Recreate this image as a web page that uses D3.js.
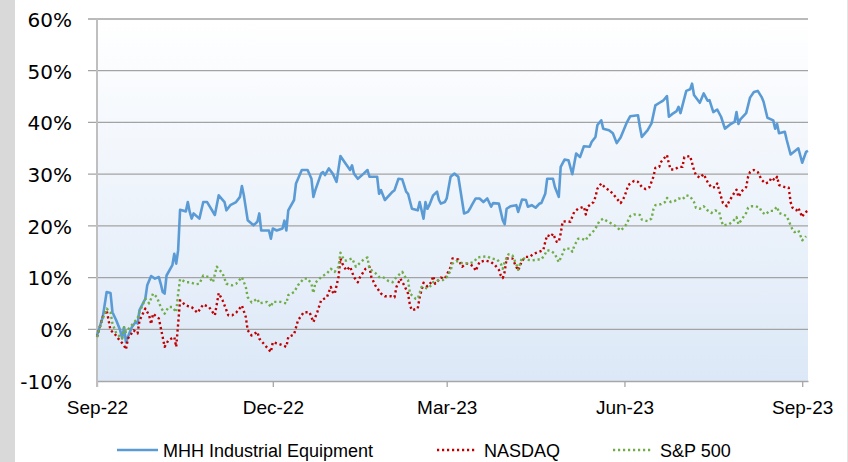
<!DOCTYPE html>
<html>
<head>
<meta charset="utf-8">
<script src="https://cdnjs.cloudflare.com/ajax/libs/d3/7.8.5/d3.min.js"></script>
<style>
  body { margin: 0; background: #ffffff; }
  svg { display: block; }
</style>
</head>
<body>
<div class="container"></div>
<script>
const seriesNames = ["MHH Industrial Equipment", "NASDAQ", "S&P 500"]
const xTickDates = ["2022-09-01", "2022-12-01", "2023-03-01", "2023-06-01", "2023-09-01"]
const yTicks = [-10, 0, 10, 20, 30, 40, 50, 60]

const mhhDates = ["2022-09-01","2022-09-04","2022-09-06","2022-09-08","2022-09-09","2022-09-11","2022-09-13","2022-09-14","2022-09-15","2022-09-16","2022-09-17","2022-09-19","2022-09-21","2022-09-22","2022-09-23","2022-09-26","2022-09-27","2022-09-29","2022-10-01","2022-10-03","2022-10-04","2022-10-05","2022-10-06","2022-10-07","2022-10-10","2022-10-11","2022-10-12","2022-10-13","2022-10-14","2022-10-17","2022-10-18","2022-10-19","2022-10-20","2022-10-21","2022-10-24","2022-10-26","2022-10-28","2022-11-01","2022-11-03","2022-11-06","2022-11-07","2022-11-09","2022-11-12","2022-11-14","2022-11-15","2022-11-16","2022-11-18","2022-11-21","2022-11-23","2022-11-24","2022-11-25","2022-11-29","2022-11-30","2022-12-01","2022-12-03","2022-12-06","2022-12-07","2022-12-08","2022-12-09","2022-12-12","2022-12-13","2022-12-16","2022-12-19","2022-12-21","2022-12-22","2022-12-23","2022-12-26","2022-12-27","2022-12-28","2022-12-30","2023-01-01","2023-01-03","2023-01-05","2023-01-07","2023-01-10","2023-01-11","2023-01-12","2023-01-14","2023-01-17","2023-01-19","2023-01-20","2023-01-24","2023-01-25","2023-01-26","2023-01-28","2023-02-01","2023-02-02","2023-02-04","2023-02-06","2023-02-08","2023-02-09","2023-02-11","2023-02-14","2023-02-15","2023-02-17","2023-02-18","2023-02-19","2023-02-20","2023-02-22","2023-02-24","2023-02-25","2023-02-26","2023-02-28","2023-03-01","2023-03-03","2023-03-05","2023-03-07","2023-03-10","2023-03-12","2023-03-13","2023-03-14","2023-03-16","2023-03-18","2023-03-20","2023-03-22","2023-03-24","2023-03-25","2023-03-28","2023-03-30","2023-03-31","2023-04-01","2023-04-03","2023-04-06","2023-04-07","2023-04-09","2023-04-11","2023-04-12","2023-04-14","2023-04-16","2023-04-18","2023-04-19","2023-04-21","2023-04-22","2023-04-25","2023-04-26","2023-04-28","2023-04-29","2023-05-01","2023-05-03","2023-05-05","2023-05-07","2023-05-09","2023-05-11","2023-05-14","2023-05-15","2023-05-17","2023-05-18","2023-05-20","2023-05-21","2023-05-24","2023-05-26","2023-05-28","2023-05-30","2023-06-02","2023-06-04","2023-06-08","2023-06-09","2023-06-10","2023-06-13","2023-06-15","2023-06-17","2023-06-20","2023-06-21","2023-06-23","2023-06-24","2023-06-26","2023-06-28","2023-06-29","2023-06-30","2023-07-03","2023-07-05","2023-07-06","2023-07-07","2023-07-10","2023-07-12","2023-07-14","2023-07-15","2023-07-17","2023-07-19","2023-07-21","2023-07-23","2023-07-26","2023-07-28","2023-07-29","2023-07-30","2023-07-31","2023-08-03","2023-08-05","2023-08-07","2023-08-09","2023-08-11","2023-08-12","2023-08-14","2023-08-17","2023-08-18","2023-08-19","2023-08-20","2023-08-23","2023-08-24","2023-08-26","2023-08-30","2023-09-01","2023-09-03","2023-09-04"]
const mhhValues = [-1.2,2.4,7.2,7.0,3.3,1.7,-0.2,-1.7,0.4,-2.5,-1.5,0.4,1.4,1.1,3.7,5.9,8.5,10.3,9.8,10.1,8.8,7.2,6.9,10.4,12.4,14.6,12.7,15.3,23.1,22.8,24.6,22.7,21.4,22.4,21.4,24.6,24.6,22.1,25.9,24.6,23.0,24.0,24.6,25.6,27.7,25.9,21.1,20.1,20.8,22.4,19.1,19.1,17.5,19.5,19.1,19.5,21.0,19.1,23.0,25.0,28.2,30.8,30.8,29.1,25.6,26.9,30.1,30.4,29.8,31.1,30.1,28.5,33.5,32.4,30.8,31.7,30.1,29.1,30.1,30.8,29.5,29.5,26.2,26.9,25.0,26.6,26.9,29.1,29.0,26.6,26.2,23.3,23.0,24.6,21.4,24.6,23.3,24.0,25.9,26.6,25.0,24.3,24.6,25.3,29.5,30.1,29.5,22.4,22.7,23.3,24.0,25.3,25.3,24.6,25.3,23.7,24.4,24.3,21.1,20.3,23.3,23.8,24.0,22.7,25.1,25.0,23.7,24.0,23.5,24.3,24.4,26.2,29.1,29.1,27.5,25.6,31.4,32.8,32.7,30.0,34.0,33.3,35.4,35.3,36.2,37.2,39.5,40.4,38.8,38.5,37.9,36.0,37.1,39.8,41.2,41.4,39.1,37.2,38.5,39.8,43.3,44.0,44.2,45.1,41.1,41.7,42.2,43.0,41.8,46.1,46.4,47.5,45.3,43.8,45.6,44.2,44.3,42.0,42.5,41.1,38.8,39.7,40.1,42.0,39.7,40.6,41.8,44.8,45.9,46.1,44.9,44.0,40.9,40.4,38.8,39.7,37.9,38.2,36.6,33.8,35.0,32.2,34.3,34.5]

const nasdaqDates = ["2022-09-01","2022-09-04","2022-09-06","2022-09-08","2022-09-10","2022-09-12","2022-09-15","2022-09-16","2022-09-17","2022-09-20","2022-09-22","2022-09-23","2022-09-26","2022-09-28","2022-09-29","2022-09-30","2022-10-03","2022-10-05","2022-10-06","2022-10-08","2022-10-11","2022-10-12","2022-10-13","2022-10-14","2022-10-17","2022-10-20","2022-10-23","2022-10-26","2022-10-29","2022-11-01","2022-11-03","2022-11-05","2022-11-08","2022-11-10","2022-11-12","2022-11-15","2022-11-17","2022-11-18","2022-11-20","2022-11-23","2022-11-24","2022-11-27","2022-11-30","2022-12-01","2022-12-04","2022-12-06","2022-12-08","2022-12-09","2022-12-12","2022-12-14","2022-12-17","2022-12-20","2022-12-22","2022-12-24","2022-12-26","2022-12-29","2022-12-31","2023-01-01","2023-01-02","2023-01-04","2023-01-05","2023-01-06","2023-01-08","2023-01-10","2023-01-12","2023-01-14","2023-01-15","2023-01-18","2023-01-20","2023-01-21","2023-01-23","2023-01-26","2023-01-28","2023-01-31","2023-02-02","2023-02-03","2023-02-05","2023-02-07","2023-02-09","2023-02-10","2023-02-11","2023-02-14","2023-02-15","2023-02-17","2023-02-19","2023-02-21","2023-02-22","2023-02-23","2023-02-26","2023-02-28","2023-03-03","2023-03-04","2023-03-07","2023-03-09","2023-03-11","2023-03-13","2023-03-15","2023-03-16","2023-03-18","2023-03-21","2023-03-24","2023-03-26","2023-03-28","2023-03-29","2023-03-30","2023-03-31","2023-04-01","2023-04-04","2023-04-06","2023-04-07","2023-04-09","2023-04-11","2023-04-13","2023-04-15","2023-04-18","2023-04-20","2023-04-21","2023-04-22","2023-04-24","2023-04-25","2023-04-27","2023-04-28","2023-04-29","2023-04-30","2023-05-02","2023-05-04","2023-05-06","2023-05-08","2023-05-11","2023-05-12","2023-05-13","2023-05-16","2023-05-17","2023-05-18","2023-05-20","2023-05-22","2023-05-24","2023-05-26","2023-05-28","2023-05-30","2023-06-01","2023-06-03","2023-06-06","2023-06-08","2023-06-10","2023-06-12","2023-06-14","2023-06-16","2023-06-17","2023-06-19","2023-06-20","2023-06-23","2023-06-24","2023-06-25","2023-06-27","2023-06-29","2023-07-01","2023-07-02","2023-07-05","2023-07-07","2023-07-08","2023-07-10","2023-07-12","2023-07-14","2023-07-16","2023-07-18","2023-07-19","2023-07-21","2023-07-22","2023-07-24","2023-07-25","2023-07-27","2023-07-29","2023-07-30","2023-08-01","2023-08-03","2023-08-04","2023-08-05","2023-08-07","2023-08-09","2023-08-11","2023-08-13","2023-08-15","2023-08-16","2023-08-18","2023-08-19","2023-08-20","2023-08-23","2023-08-25","2023-08-26","2023-08-27","2023-08-29","2023-08-30","2023-09-01","2023-09-02","2023-09-04"]
const nasdaqValues = [-1.5,2.4,3.7,-0.2,-0.8,-1.8,-3.1,-3.9,-1.8,-0.2,-0.8,1.7,4.0,2.7,1.0,3.0,2.1,-1.5,-3.4,-2.1,-1.5,-3.4,1.1,5.6,4.6,4.3,3.2,4.8,4.3,2.7,7.0,5.6,2.7,2.7,3.2,4.6,2.4,-0.2,-1.2,-0.5,-1.8,-3.1,-4.4,-2.5,-2.8,-3.1,-3.4,-1.5,-1.0,1.7,3.3,3.3,1.4,3.3,5.6,6.2,8.2,7.2,6.8,10.1,13.7,12.7,11.4,12.1,10.1,9.1,10.0,11.7,12.1,10.1,8.5,6.9,6.4,6.4,6.2,8.2,9.8,8.5,6.9,4.6,3.7,4.0,6.2,9.0,8.3,9.1,10.3,8.8,10.0,9.8,12.0,13.7,13.5,12.1,12.7,12.6,12.1,11.3,13.0,13.3,13.0,12.4,11.5,10.4,9.9,11.1,13.7,13.7,12.1,11.4,13.3,14.0,14.0,14.6,15.0,15.3,16.9,18.2,17.9,18.5,16.9,16.9,18.5,20.8,20.9,20.8,22.7,23.3,23.7,22.2,23.7,24.6,25.6,27.2,28.2,27.4,26.9,26.2,25.3,24.4,25.6,27.9,28.7,28.5,27.5,27.1,27.5,29.5,31.2,31.4,32.4,33.7,32.0,30.9,30.9,31.4,31.4,33.3,33.5,30.8,29.8,29.3,30.0,28.5,27.4,27.5,28.2,25.6,24.4,23.8,24.6,25.9,27.0,25.6,26.8,27.5,29.5,30.4,30.8,30.4,28.9,28.2,28.5,29.3,28.8,29.5,27.9,27.5,27.4,24.6,23.5,23.0,23.5,21.7,22.4,23.0]

const spDates = ["2022-09-01","2022-09-03","2022-09-06","2022-09-08","2022-09-09","2022-09-11","2022-09-14","2022-09-15","2022-09-16","2022-09-19","2022-09-21","2022-09-22","2022-09-23","2022-09-26","2022-09-28","2022-09-30","2022-10-02","2022-10-04","2022-10-06","2022-10-08","2022-10-10","2022-10-12","2022-10-13","2022-10-14","2022-10-17","2022-10-19","2022-10-22","2022-10-24","2022-10-26","2022-10-29","2022-10-31","2022-11-02","2022-11-05","2022-11-07","2022-11-10","2022-11-12","2022-11-15","2022-11-17","2022-11-18","2022-11-20","2022-11-23","2022-11-24","2022-11-28","2022-11-30","2022-12-01","2022-12-05","2022-12-08","2022-12-09","2022-12-12","2022-12-14","2022-12-17","2022-12-19","2022-12-21","2022-12-22","2022-12-23","2022-12-26","2022-12-29","2022-12-31","2023-01-02","2023-01-04","2023-01-05","2023-01-07","2023-01-08","2023-01-11","2023-01-13","2023-01-15","2023-01-17","2023-01-19","2023-01-20","2023-01-23","2023-01-25","2023-01-27","2023-01-30","2023-02-01","2023-02-03","2023-02-06","2023-02-08","2023-02-09","2023-02-10","2023-02-13","2023-02-14","2023-02-16","2023-02-19","2023-02-21","2023-02-22","2023-02-25","2023-02-27","2023-03-01","2023-03-03","2023-03-04","2023-03-06","2023-03-09","2023-03-12","2023-03-15","2023-03-17","2023-03-19","2023-03-22","2023-03-24","2023-03-27","2023-03-29","2023-03-30","2023-03-31","2023-04-02","2023-04-04","2023-04-06","2023-04-07","2023-04-09","2023-04-11","2023-04-14","2023-04-17","2023-04-19","2023-04-21","2023-04-22","2023-04-24","2023-04-26","2023-04-27","2023-04-28","2023-04-30","2023-05-01","2023-05-04","2023-05-05","2023-05-06","2023-05-08","2023-05-10","2023-05-12","2023-05-13","2023-05-15","2023-05-17","2023-05-19","2023-05-21","2023-05-23","2023-05-26","2023-05-28","2023-05-30","2023-06-01","2023-06-02","2023-06-04","2023-06-06","2023-06-09","2023-06-10","2023-06-13","2023-06-15","2023-06-16","2023-06-17","2023-06-20","2023-06-22","2023-06-23","2023-06-25","2023-06-27","2023-06-29","2023-07-01","2023-07-02","2023-07-03","2023-07-05","2023-07-07","2023-07-08","2023-07-10","2023-07-12","2023-07-14","2023-07-16","2023-07-18","2023-07-20","2023-07-21","2023-07-22","2023-07-25","2023-07-27","2023-07-29","2023-07-30","2023-08-01","2023-08-03","2023-08-04","2023-08-06","2023-08-08","2023-08-10","2023-08-11","2023-08-13","2023-08-15","2023-08-17","2023-08-19","2023-08-20","2023-08-22","2023-08-24","2023-08-26","2023-08-27","2023-08-28","2023-08-30","2023-08-31","2023-09-01","2023-09-03"]
const spValues = [-1.5,1.1,4.0,3.3,1.1,-0.8,-1.8,0.4,-0.5,0.8,1.7,2.1,3.3,5.9,5.0,6.9,6.2,4.3,3.0,4.3,4.3,3.3,6.9,9.7,9.1,9.1,8.7,8.8,10.4,10.1,9.1,12.1,10.8,8.8,8.5,8.8,10.1,8.2,6.2,5.2,5.9,5.0,5.3,4.3,5.3,5.3,5.0,6.6,7.2,8.5,9.8,9.8,8.8,7.0,9.0,10.1,10.8,11.7,11.1,12.1,14.8,13.3,13.3,13.7,12.1,12.8,13.5,13.9,11.7,10.9,10.1,10.1,9.3,9.1,10.1,11.1,9.8,9.5,6.9,5.9,5.9,8.2,7.9,8.5,9.1,9.5,9.5,10.1,11.3,12.7,13.2,12.8,12.7,13.0,13.9,14.0,14.1,13.7,13.5,12.7,11.7,13.0,14.5,14.3,12.6,11.5,13.9,13.5,13.3,13.5,13.5,14.6,15.3,15.1,14.6,13.7,13.0,14.6,15.6,15.6,15.0,16.1,17.5,17.5,17.2,18.0,18.5,19.5,20.9,21.4,20.9,20.3,19.8,19.1,19.8,20.3,21.9,22.2,22.1,21.2,20.9,21.4,23.2,24.0,24.2,24.6,25.4,24.6,24.8,25.3,25.1,25.5,25.9,25.7,24.6,23.5,23.3,23.8,23.0,22.5,23.0,22.7,21.2,20.1,20.3,20.8,21.7,20.3,21.4,22.5,23.5,23.8,23.8,23.5,22.7,22.2,22.9,22.9,23.7,22.5,22.2,21.9,20.1,19.3,18.8,19.1,18.2,17.2,18.0]

const parseDate = d3.timeParse("%Y-%m-%d")

const series = [
  { name: seriesNames[0], dates: mhhDates, values: mhhValues, color: "#5b9bd5", dash: null, width: 2.6 },
  { name: seriesNames[1], dates: nasdaqDates, values: nasdaqValues, color: "#c00000", dash: "2.2,2.8", width: 2.4 },
  { name: seriesNames[2], dates: spDates, values: spValues, color: "#70ad47", dash: "2.2,2.8", width: 2.4 }
]

const width = 848, height = 462
const plotLeft = 97, plotRight = 808, plotTop = 19, plotBottom = 381

const svg = d3.select(".container")
              .append("svg")
              .attr("width", width)
              .attr("height", height)

const xScale = d3.scaleTime()
                 .domain([parseDate("2022-09-01"), parseDate("2023-09-04")])
                 .range([plotLeft, plotRight])

const yScale = d3.scaleLinear()
                 .domain([-10, 60])
                 .range([plotBottom, plotTop])

// left gray strip and right hairline of the slide
svg.append("rect").attr("x", 0).attr("y", 0).attr("width", 15).attr("height", height).attr("fill", "#d9d9d9")
svg.append("line").attr("x1", 847.5).attr("x2", 847.5).attr("y1", 0).attr("y2", height).attr("stroke", "#e4e4e4")

// plot background gradient
const grad = svg.append("defs").append("linearGradient")
                .attr("id", "plotBg").attr("x1", 0).attr("y1", 0).attr("x2", 0).attr("y2", 1)
grad.append("stop").attr("offset", "0%").attr("stop-color", "#ffffff")
grad.append("stop").attr("offset", "100%").attr("stop-color", "#dce8f7")

svg.append("rect")
   .attr("x", plotLeft).attr("y", plotTop)
   .attr("width", plotRight - plotLeft).attr("height", plotBottom - plotTop)
   .attr("fill", "url(#plotBg)")

// gridlines
svg.append("g")
   .selectAll("line")
   .data(yTicks.filter(d => d !== -10))
   .enter()
   .append("line")
   .attr("x1", plotLeft - 9).attr("x2", plotRight)
   .attr("y1", d => yScale(d)).attr("y2", d => yScale(d))
   .attr("stroke", "#a3a3a3")
   .attr("stroke-width", 1.3)

// y axis labels
const yAxis = svg.append("g")
                 .attr("transform", `translate(${plotLeft},0)`)
                 .call(d3.axisLeft(yScale).tickValues(yTicks).tickSize(0).tickPadding(25).tickFormat(d => d + "%"))
yAxis.select(".domain").remove()
yAxis.selectAll("text")
     .attr("dy", "0.37em")
     .style("font-family", "DejaVu Sans")
     .style("font-size", "20px")
     .attr("fill", "#000")

// x axis
const xAxis = svg.append("g")
                 .attr("transform", `translate(0,${plotBottom})`)
                 .call(d3.axisBottom(xScale)
                         .tickValues(xTickDates.map(parseDate))
                         .tickSizeInner(6).tickSizeOuter(0).tickPadding(14)
                         .tickFormat(d3.timeFormat("%b-%y")))
xAxis.select(".domain").attr("stroke", "#a6a6a6").attr("stroke-width", 1.5)
xAxis.selectAll(".tick line").attr("stroke", "#a6a6a6").attr("stroke-width", 1.3)
xAxis.selectAll("text")
     .style("font-family", "Liberation Sans")
     .style("font-size", "19px")
     .attr("fill", "#000")

// y axis line drawn over the -10% gridline area
svg.append("line")
   .attr("x1", plotLeft).attr("x2", plotLeft)
   .attr("y1", plotTop).attr("y2", plotBottom + 6)
   .attr("stroke", "#bfbfbf")
   .attr("stroke-width", 2)

// series lines
const line = d3.line()
               .x(d => xScale(d.date))
               .y(d => yScale(d.value))

series.forEach(s => {
    const pts = s.dates.map((d, i) => ({ date: parseDate(d), value: s.values[i] }))
    svg.append("path")
       .datum(pts)
       .attr("d", line)
       .attr("fill", "none")
       .attr("stroke", s.color)
       .attr("stroke-width", s.width)
       .attr("stroke-linejoin", "round")
       .attr("stroke-dasharray", s.dash)
})

// legend
const legendX = [117, 437, 613]
const legend = svg.append("g")
                  .selectAll("g")
                  .data(series)
                  .enter()
                  .append("g")
                  .attr("transform", (d, i) => `translate(${legendX[i]},450)`)
legend.append("line")
      .attr("x1", 0).attr("x2", (d, i) => i === 0 ? 41 : 38)
      .attr("y1", 0).attr("y2", 0)
      .attr("stroke", d => d.color)
      .attr("stroke-width", d => d.width)
      .attr("stroke-dasharray", d => d.dash)
legend.append("text")
      .attr("x", (d, i) => i === 0 ? 46 : 47)
      .attr("y", 6.5)
      .text(d => d.name)
      .style("font-family", "Liberation Sans")
      .style("font-size", "18px")
      .attr("fill", "#000")
</script>
</body>
</html>
